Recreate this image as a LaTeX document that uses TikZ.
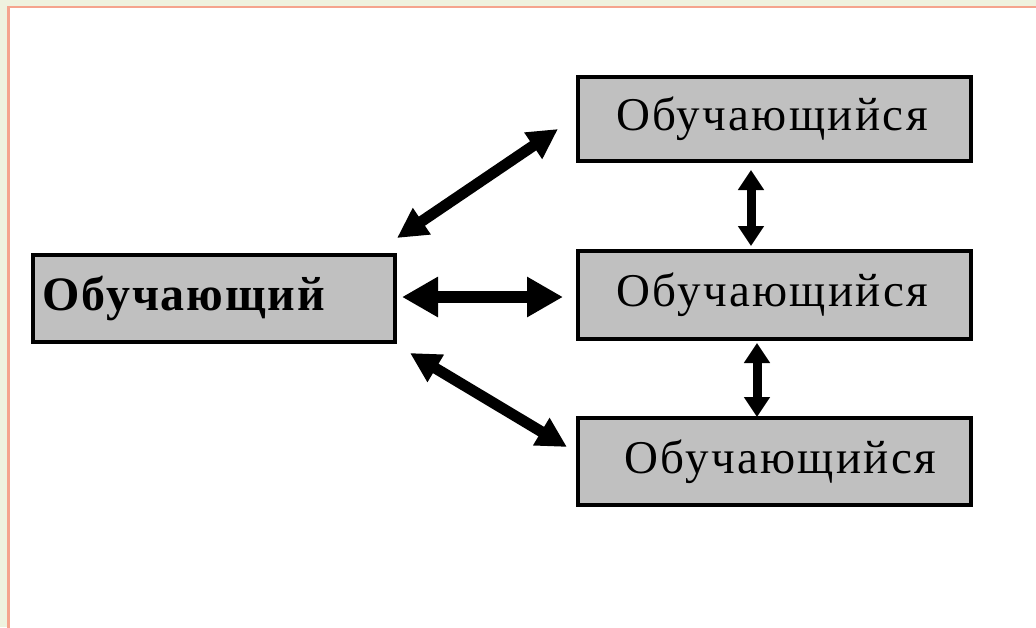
\documentclass[tikz,border=0pt]{standalone}
\usepackage{fontspec}
\setmainfont{Liberation Serif}
\usetikzlibrary{arrows.meta}
\definecolor{cream}{HTML}{EFF2DF}
\definecolor{salmon}{HTML}{F5A48E}
\definecolor{boxgray}{HTML}{C0C0C0}
\begin{document}
\begin{tikzpicture}[x=1pt,y=-1pt,
  box/.style={draw=black, line width=4pt, fill=boxgray, inner sep=0pt,
    minimum width=393pt, minimum height=87pt,
    font=\fontsize{47}{52}\selectfont\addfontfeature{LetterSpace=5}},
  boldbox/.style={box, minimum width=362pt,
    font=\fontsize{48}{54}\selectfont\bfseries\addfontfeature{LetterSpace=4}},
  bigarrow/.style={{Triangle[length=36pt,width=38pt]}-{Triangle[length=36pt,width=38pt]}, line width=12pt},
  diagarrow/.style={{Triangle[length=30pt,width=30pt]}-{Triangle[length=30pt,width=30pt]}, line width=11pt},
  vertarrow/.style={{Triangle[length=20pt,width=25pt]}-{Triangle[length=20pt,width=25pt]}, line width=9pt}]
  \useasboundingbox (0,0) rectangle (1036,627);
  % background and frame
  \fill[cream] (0,0) rectangle (1036,627);
  \draw[salmon, line width=2.5pt, fill=white] (8.5,7) rectangle (1050,645);
  % boxes
  \node[boldbox] (teacher) at (214,298.5) {Обучающий\rule{60pt}{0pt}};
  \node[box, minimum height=84pt] (s1) at (774,119) {Обучающийся\rule{4pt}{0pt}};
  \node[box, minimum height=88pt] (s2) at (774.5,295) {Обучающийся\rule{4pt}{0pt}};
  \node[box] (s3) at (774.5,461.5) {\rule{12pt}{0pt}Обучающийся};
  % arrow end points
  \coordinate (a1s) at (397,238);
  \coordinate (a1e) at (558,129);
  \coordinate (a2s) at (402,297);
  \coordinate (a2e) at (563,297);
  \coordinate (a3s) at (410,353);
  \coordinate (a3e) at (567,447);
  \coordinate (v1s) at (751,170);
  \coordinate (v1e) at (751,246);
  \coordinate (v2s) at (757,343);
  \coordinate (v2e) at (757,417);
  % arrows
  \draw[diagarrow] (a1s) -- (a1e);
  \draw[bigarrow] (a2s) -- (a2e);
  \draw[diagarrow] (a3s) -- (a3e);
  \draw[vertarrow] (v1s) -- (v1e);
  \draw[vertarrow] (v2s) -- (v2e);
\end{tikzpicture}
\end{document}
